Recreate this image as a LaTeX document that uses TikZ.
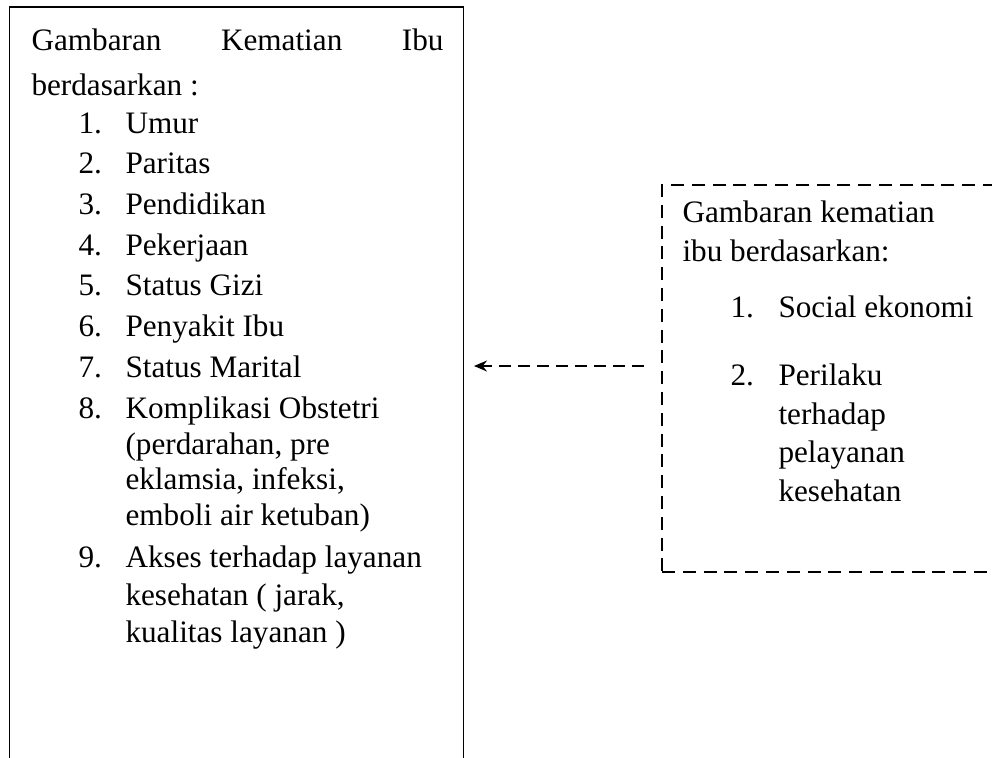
\documentclass[tikz,border=0pt]{standalone}
\usepackage{fontspec}
\setmainfont{Liberation Serif}
\usetikzlibrary{fit,arrows.meta}
\tikzset{
  box/.style={draw, line width=0.75pt, inner sep=0pt},
  dbox/.style={draw, line width=0.75pt, inner sep=0pt, dash pattern=on 5pt off 3pt},
  txt/.style={anchor=base west, inner sep=0pt, font=\fontsize{12pt}{14pt}\selectfont},
  link/.style={line width=0.75pt, dash pattern=on 4.6pt off 2.7pt, -{Stealth[length=5pt,width=4.2pt]}}
}
\begin{document}
\begin{tikzpicture}[x=0.3845pt,y=-0.3845pt]
\useasboundingbox (0,0) rectangle (992,758);
\clip (0,0) rectangle (992,758);
\node (L) [box, fit={(9.5,7) (463.5,780)}] {};
\node (R) [dbox, fit={(662,185) (1010,572)}] {};
% left texts
\node (l0) [txt] at (31,50) {\makebox[158.4pt][s]{Gambaran\hfill Kematian\hfill Ibu}};
\node (l1) [txt] at (31,95) {berdasarkan :};
\foreach \n/\y/\t in {1/133/Umur, 2/173.5/Paritas, 3/214/Pendidikan, 4/255/Pekerjaan, 5/295.5/Status Gizi, 6/336.5/Penyakit Ibu, 7/377/Status Marital, 8/418/Komplikasi Obstetri, 9/567/Akses terhadap layanan}{
  \node (n\n) [txt] at (78,\y) {\n.};
  \node (i\n) [txt] at (125,\y) {\t};
}
\node (c1) [txt] at (125,454.5) {(perdarahan, pre};
\node (c2) [txt] at (125,489.5) {eklamsia, infeksi,};
\node (c3) [txt] at (125,525) {emboli air ketuban)};
\node (c4) [txt] at (125,605) {kesehatan ( jarak,};
\node (c5) [txt] at (125,642) {kualitas layanan )};
% right texts
\node (r0) [txt] at (682,222) {Gambaran kematian};
\node (r1) [txt] at (682,261) {ibu berdasarkan:};
\node (rn1) [txt] at (730,317) {1.};
\node (ri1) [txt] at (778,317) {Social ekonomi};
\node (rn2) [txt] at (730,385) {2.};
\node (ri2) [txt] at (778,385) {Perilaku};
\node (r2) [txt] at (778,424) {terhadap};
\node (r3) [txt] at (778,462) {pelayanan};
\node (r4) [txt] at (778,501) {kesehatan};
% arrow
\coordinate (ay) at (0,366);
\draw[link, shorten <=6.5pt, shorten >=3.65pt] (R.west |- ay) -- (L.east |- ay);
\end{tikzpicture}
\end{document}
